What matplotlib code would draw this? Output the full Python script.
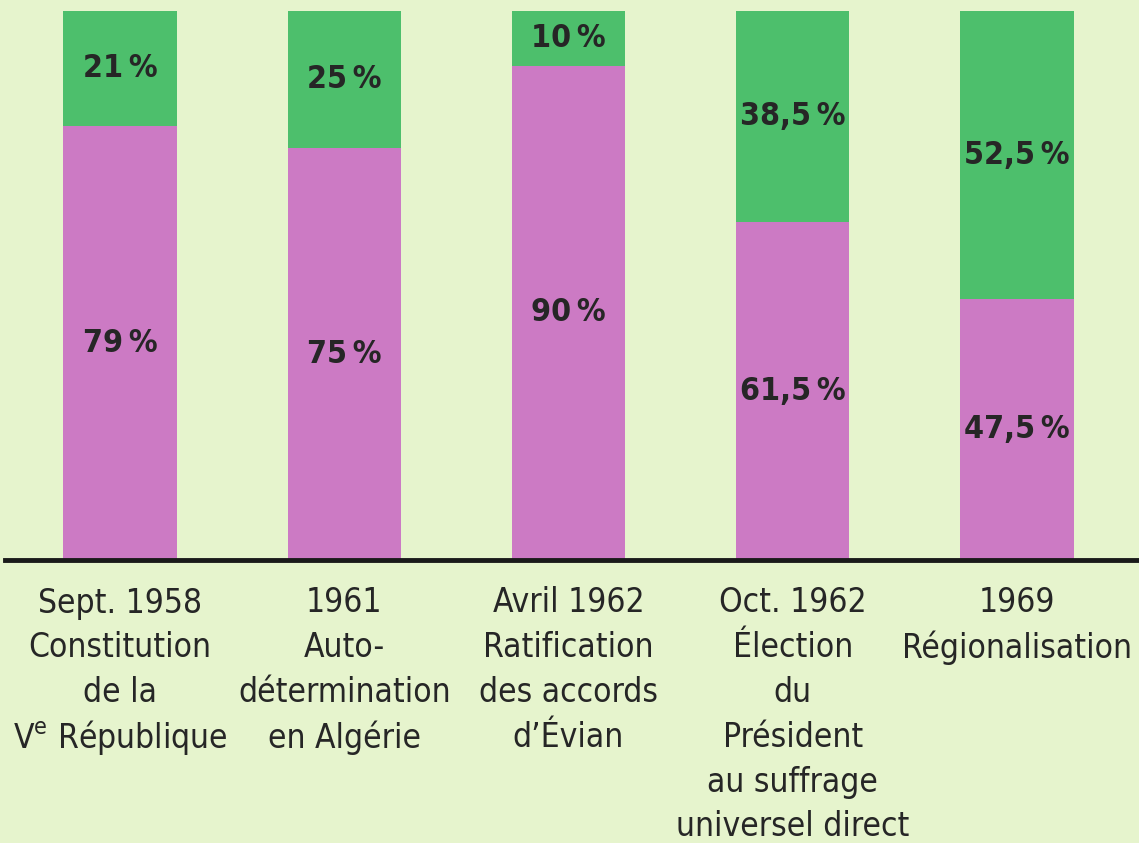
import matplotlib.pyplot as plt

categories = [
    "Sept. 1958\nConstitution\nde la\nV$^{e}$ République",
    "1961\nAuto-\ndétermination\nen Algérie",
    "Avril 1962\nRatification\ndes accords\nd’Évian",
    "Oct. 1962\nÉlection\ndu\nPrésident\nau suffrage\nuniversel direct",
    "1969\nRégionalisation",
]
oui = [79, 75, 90, 61.5, 47.5]
non = [21, 25, 10, 38.5, 52.5]
oui_labels = ["79", "75", "90", "61,5", "47,5"]
non_labels = ["21", "25", "10", "38,5", "52,5"]

bg = "#e6f4cd"
pink = "#cc7ac4"
green = "#4dbf6c"
txt = "#262626"

plt.rcParams["mathtext.default"] = "regular"
plt.rcParams["font.family"] = ["DejaVu Sans"]

fig = plt.figure(figsize=(11.39, 8.43), dpi=100, facecolor=bg)
ax = fig.add_axes([5 / 1139, 1 - 560 / 843, 1 - 5 / 1139, (560 - 11) / 843])
ax.set_facecolor(bg)

x = list(range(len(categories)))
ax.bar(x, oui, width=0.505, color=pink, zorder=2)
ax.bar(x, non, width=0.505, bottom=oui, color=green, zorder=2)

for i in x:
    ax.text(i, oui[i] / 2, oui_labels[i] + "\u2009%", ha="center", va="center",
            fontsize=23, fontstretch="condensed", fontweight="bold", color=txt, zorder=3)
    ax.text(i, oui[i] + non[i] / 2, non_labels[i] + "\u2009%", ha="center", va="center",
            fontsize=23, fontstretch="condensed", fontweight="bold", color=txt, zorder=3)

ax.set_xlim(-115 / 224.25, (1139 - 120) / 224.25)
ax.set_ylim(0, 100)
for s in ["top", "right", "left"]:
    ax.spines[s].set_visible(False)
ax.spines["bottom"].set_linewidth(3.5)
ax.spines["bottom"].set_color("#1a1a1a")
ax.set_xticks([])
ax.set_yticks([])

# category labels, one line at a time (y in pixels from the top)
trans = ax.get_xaxis_transform()
for i, lab in enumerate(categories):
    for j, line in enumerate(lab.split("\n")):
        y_px = 603 + 44.8 * j
        ax.text(i, -(y_px - 560) / 549, line, ha="center", va="center",
                fontsize=24, fontstretch="condensed", color=txt,
                transform=trans, clip_on=False)

plt.savefig("out.png", dpi=100, facecolor=bg)
